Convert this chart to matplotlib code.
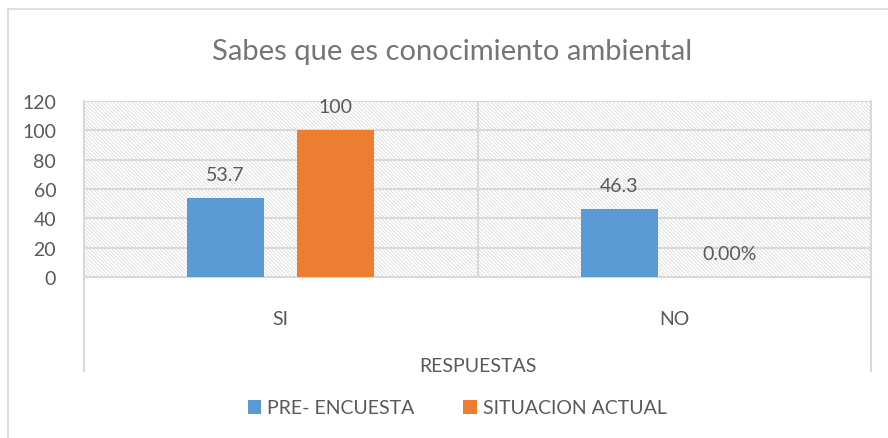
import numpy as np
import matplotlib.pyplot as plt
from matplotlib.patches import Rectangle
from matplotlib.lines import Line2D

# Daten
categorias = ['SI', 'NO']
pre_encuesta = [53.7, 46.3]
situacion_actual = [100, 0]
etiquetas_pre = ['53.7', '46.3']
etiquetas_act = ['100', '0.00%']
yticks = [0, 20, 40, 60, 80, 100, 120]

azul = '#5B9BD5'
naranja = '#ED7D31'
gris = '#D9D9D9'
texto = '#595959'

plt.rcParams['font.family'] = ['Lato', 'DejaVu Sans']
plt.rcParams['hatch.linewidth'] = 0.5

W, H = 888, 439
fig = plt.figure(figsize=(W / 100, H / 100), dpi=100)

# Plotbereich in Pixeln
x0, x1, ytop, ybot = 84, 871, 102, 278
ax = fig.add_axes([x0 / W, 1 - ybot / H, (x1 - x0) / W, (ybot - ytop) / H])

x = np.arange(len(categorias))
bw = 0.196
off = 0.14

# Schraffierter Hintergrund
ax.add_patch(Rectangle((0, 0), 1, 1, transform=ax.transAxes, fill=False,
                       hatch='\\' * 9, edgecolor='#D4D4D4', linewidth=0, zorder=0))

for yv in yticks[1:]:
    ax.axhline(yv, color=gris, lw=1.5, zorder=1)
ax.axvline(0.5, color=gris, lw=1.5, zorder=1)

b1 = ax.bar(x - off, pre_encuesta, bw, color=azul, zorder=3, label='PRE- ENCUESTA')
b2 = ax.bar(x + off, situacion_actual, bw, color=naranja, zorder=3, label='SITUACION ACTUAL')

for xi, v, t in zip(x - off, pre_encuesta, etiquetas_pre):
    ax.text(xi, v + 16, t, ha='center', va='center', fontsize=14, color=texto)
for xi, v, t in zip(x + off, situacion_actual, etiquetas_act):
    ax.text(xi, v + 16, t, ha='center', va='center', fontsize=14, color=texto)

ax.set_xlim(-0.5, 1.5)
ax.set_ylim(0, 120)
ax.set_yticks(yticks)
ax.set_xticks(x)
ax.set_xticklabels(categorias)
ax.tick_params(axis='y', length=0, labelsize=14, labelcolor=texto, pad=20)
ax.tick_params(axis='x', length=0, labelsize=14, labelcolor=texto, pad=24)
for s in ['top', 'left', 'right']:
    ax.spines[s].set_visible(False)
ax.spines['bottom'].set_color(gris)
ax.spines['bottom'].set_linewidth(1.5)
ax.set_xlabel('RESPUESTAS', fontsize=14, color=texto, labelpad=21)

# Seitenlinien der Kategorienachse
for px in (x0, x1):
    fig.add_artist(Line2D([px / W, px / W], [1 - ytop / H, 1 - 372 / H],
                          color=gris, lw=1.5))

# Rahmen
fig.add_artist(Line2D([8 / W, 8 / W], [0, 1 - 10 / H], color=gris, lw=1.2))
fig.add_artist(Line2D([8 / W, 1], [1 - 10 / H, 1 - 10 / H], color=gris, lw=1.2))

fig.text(452 / W, 1 - 52 / H, 'Sabes que es conocimiento ambiental',
         ha='center', va='center', fontsize=21, color='#757575')

fig.legend(handles=[b1, b2], loc='center', bbox_to_anchor=(457 / W, 1 - 409 / H),
           ncol=2, frameon=False, fontsize=14, labelcolor=texto,
           handlelength=0.7, handleheight=0.7, handletextpad=0.3, columnspacing=2.5)

fig.savefig('out.png', dpi=100)
